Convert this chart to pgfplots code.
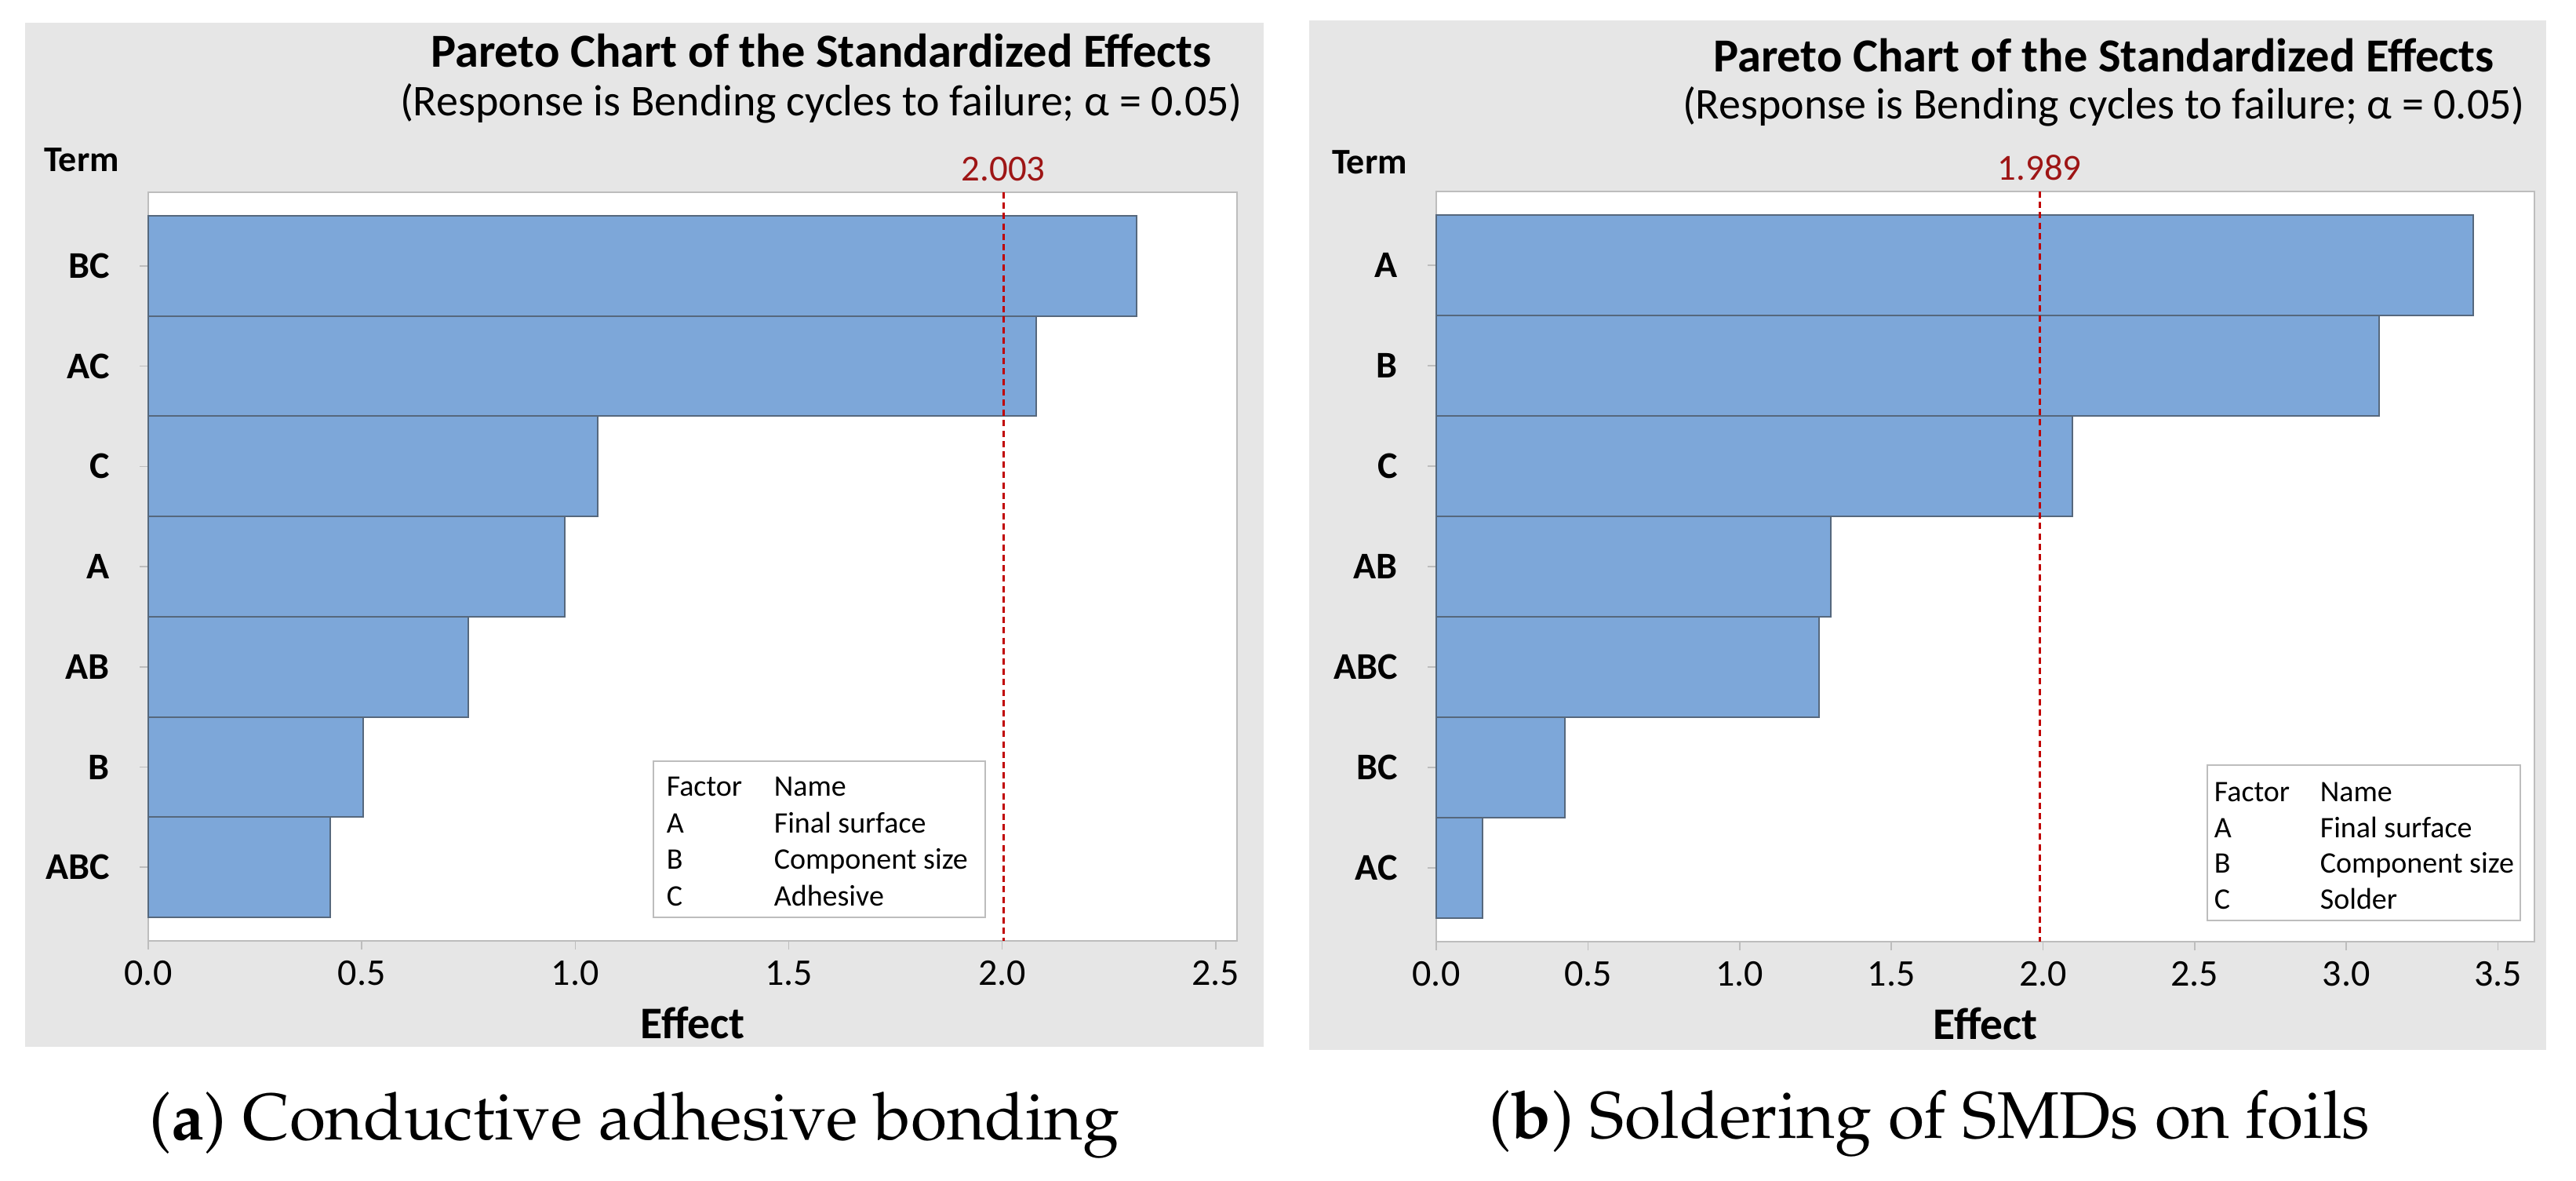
\documentclass[border=0pt]{standalone}
\usepackage{fontspec}
\setmainfont{Carlito}
\usepackage{pgfplots}
\pgfplotsset{compat=1.18}
\definecolor{bgray}{HTML}{E6E6E6}
\definecolor{barfill}{HTML}{7DA7D9}
\definecolor{baredge}{HTML}{56687D}
\definecolor{framec}{HTML}{BDBDBD}
\definecolor{refred}{HTML}{C00000}
\definecolor{labred}{HTML}{9E1515}
\newcommand{\capfont}{\fontencoding{OT1}\fontfamily{ppl}\fontseries{m}\fontshape{n}\fontsize{21}{25}\selectfont}
\pgfplotsset{paretostyle/.style={
  scale only axis, y dir=reverse,
  ymin=0.265, ymax=7.735, xmin=0,
  ytick={1,...,7}, ytick pos=left, xtick pos=bottom, tick align=outside,
  major tick length=2.75pt,
  axis line style={framec}, tick style={framec, line width=0.4pt},
  axis background/.style={fill=white},
  xticklabel style={font=\fontsize{12}{14}\selectfont},
  /pgf/number format/.cd, fixed, fixed zerofill, precision=1, assume math mode=true,
  /pgfplots/.cd,
  yticklabel style={font=\bfseries\fontsize{12}{14}\selectfont, xshift=-6pt},
  xlabel={Effect}, xlabel style={font=\bfseries\fontsize{14.4}{16}\selectfont},
  clip=false,
}}
\begin{document}
\begin{tikzpicture}
\path[use as bounding box] (0,0) rectangle (821pt,-376pt);
\fill[bgray] (8pt,-7.25pt) rectangle (402.75pt,-333.5pt);
\fill[bgray] (417.25pt,-6.5pt) rectangle (811.5pt,-334.5pt);
% ---------- left panel
\begin{axis}[paretostyle, at={(47.25pt,-299.75pt)}, anchor=south west,
  width=347pt, height=238.5pt, xmax=2.55, xtick={0,0.5,1,1.5,2,2.5},
  yticklabels={BC,AC,C,A,AB,B,ABC}]
\addplot[xbar, bar width=1, fill=barfill, draw=baredge, line width=0.5pt]
  coordinates {(2.314,1) (2.079,2) (1.052,3) (0.975,4) (0.750,5) (0.504,6) (0.427,7)};
\addplot[refred, line width=0.75pt, dash pattern=on 2pt off 1.3pt]
  coordinates {(2.003,0.265) (2.003,7.735)};
\node[labred, font=\fontsize{11.7}{13}\selectfont, anchor=base] at ([yshift=3.75pt]axis cs:2.003,0.265) {2.003};
\end{axis}
% ---------- right panel
\begin{axis}[paretostyle, at={(457.75pt,-300pt)}, anchor=south west,
  width=350pt, height=239pt, xmax=3.62, xtick={0,0.5,1,1.5,2,2.5,3,3.5},
  yticklabels={A,B,C,AB,ABC,BC,AC}]
\addplot[xbar, bar width=1, fill=barfill, draw=baredge, line width=0.5pt]
  coordinates {(3.417,1) (3.109,2) (2.098,3) (1.301,4) (1.263,5) (0.423,6) (0.152,7)};
\addplot[refred, line width=0.75pt, dash pattern=on 2pt off 1.3pt]
  coordinates {(1.989,0.265) (1.989,7.735)};
\node[labred, font=\fontsize{11.7}{13}\selectfont, anchor=base] at ([yshift=3.75pt]axis cs:1.989,0.265) {1.989};
\end{axis}
% ---------- titles
\node[font=\bfseries\fontsize{15.1}{17}\selectfont, anchor=base] at (261.75pt,-21.25pt) {Pareto Chart of the Standardized Effects};
\node[font=\fontsize{14}{16}\selectfont, anchor=base] at (261.75pt,-36.75pt) {(Response is Bending cycles to failure; α = 0.05)};
\node[font=\bfseries\fontsize{15.1}{17}\selectfont, anchor=base] at (670.5pt,-22.75pt) {Pareto Chart of the Standardized Effects};
\node[font=\fontsize{14}{16}\selectfont, anchor=base] at (670.5pt,-37.75pt) {(Response is Bending cycles to failure; α = 0.05)};
\node[font=\bfseries\fontsize{11.5}{13}\selectfont, anchor=base west] at (10.5pt,-54.5pt) {Term};
\node[font=\bfseries\fontsize{11.5}{13}\selectfont, anchor=base west] at (421pt,-55.25pt) {Term};
% ---------- legends
\draw[framec, fill=white, line width=0.4pt] (208.25pt,-242.5pt) rectangle (314pt,-292.25pt);
\begin{scope}[every node/.style={anchor=base west, inner sep=0pt, font=\fontsize{9.5}{11}\selectfont}]
\node at (212.25pt,-253.5pt) {Factor}; \node at (246.5pt,-253.5pt) {Name};
\node at (212.25pt,-265.25pt) {A}; \node at (246.5pt,-265.25pt) {Final surface};
\node at (212.25pt,-276.75pt) {B}; \node at (246.5pt,-276.75pt) {Component size};
\node at (212.25pt,-288.5pt) {C}; \node at (246.5pt,-288.5pt) {Adhesive};
\end{scope}
\draw[framec, fill=white, line width=0.4pt] (703.5pt,-243.75pt) rectangle (803.25pt,-293.25pt);
\begin{scope}[every node/.style={anchor=base west, inner sep=0pt, font=\fontsize{9.5}{11}\selectfont}]
\node at (705.5pt,-255.25pt) {Factor}; \node at (739.25pt,-255.25pt) {Name};
\node at (705.5pt,-266.75pt) {A}; \node at (739.25pt,-266.75pt) {Final surface};
\node at (705.5pt,-278pt) {B}; \node at (739.25pt,-278pt) {Component size};
\node at (705.5pt,-289.5pt) {C}; \node at (739.25pt,-289.5pt) {Solder};
\end{scope}
% ---------- captions
\node[anchor=base, font=\capfont] at (202.25pt,-363pt) {(\textbf{a}) Conductive adhesive bonding};
\node[anchor=base, font=\capfont] at (615pt,-362.5pt) {(\textbf{b}) Soldering of SMDs on foils};
\end{tikzpicture}
\end{document}
